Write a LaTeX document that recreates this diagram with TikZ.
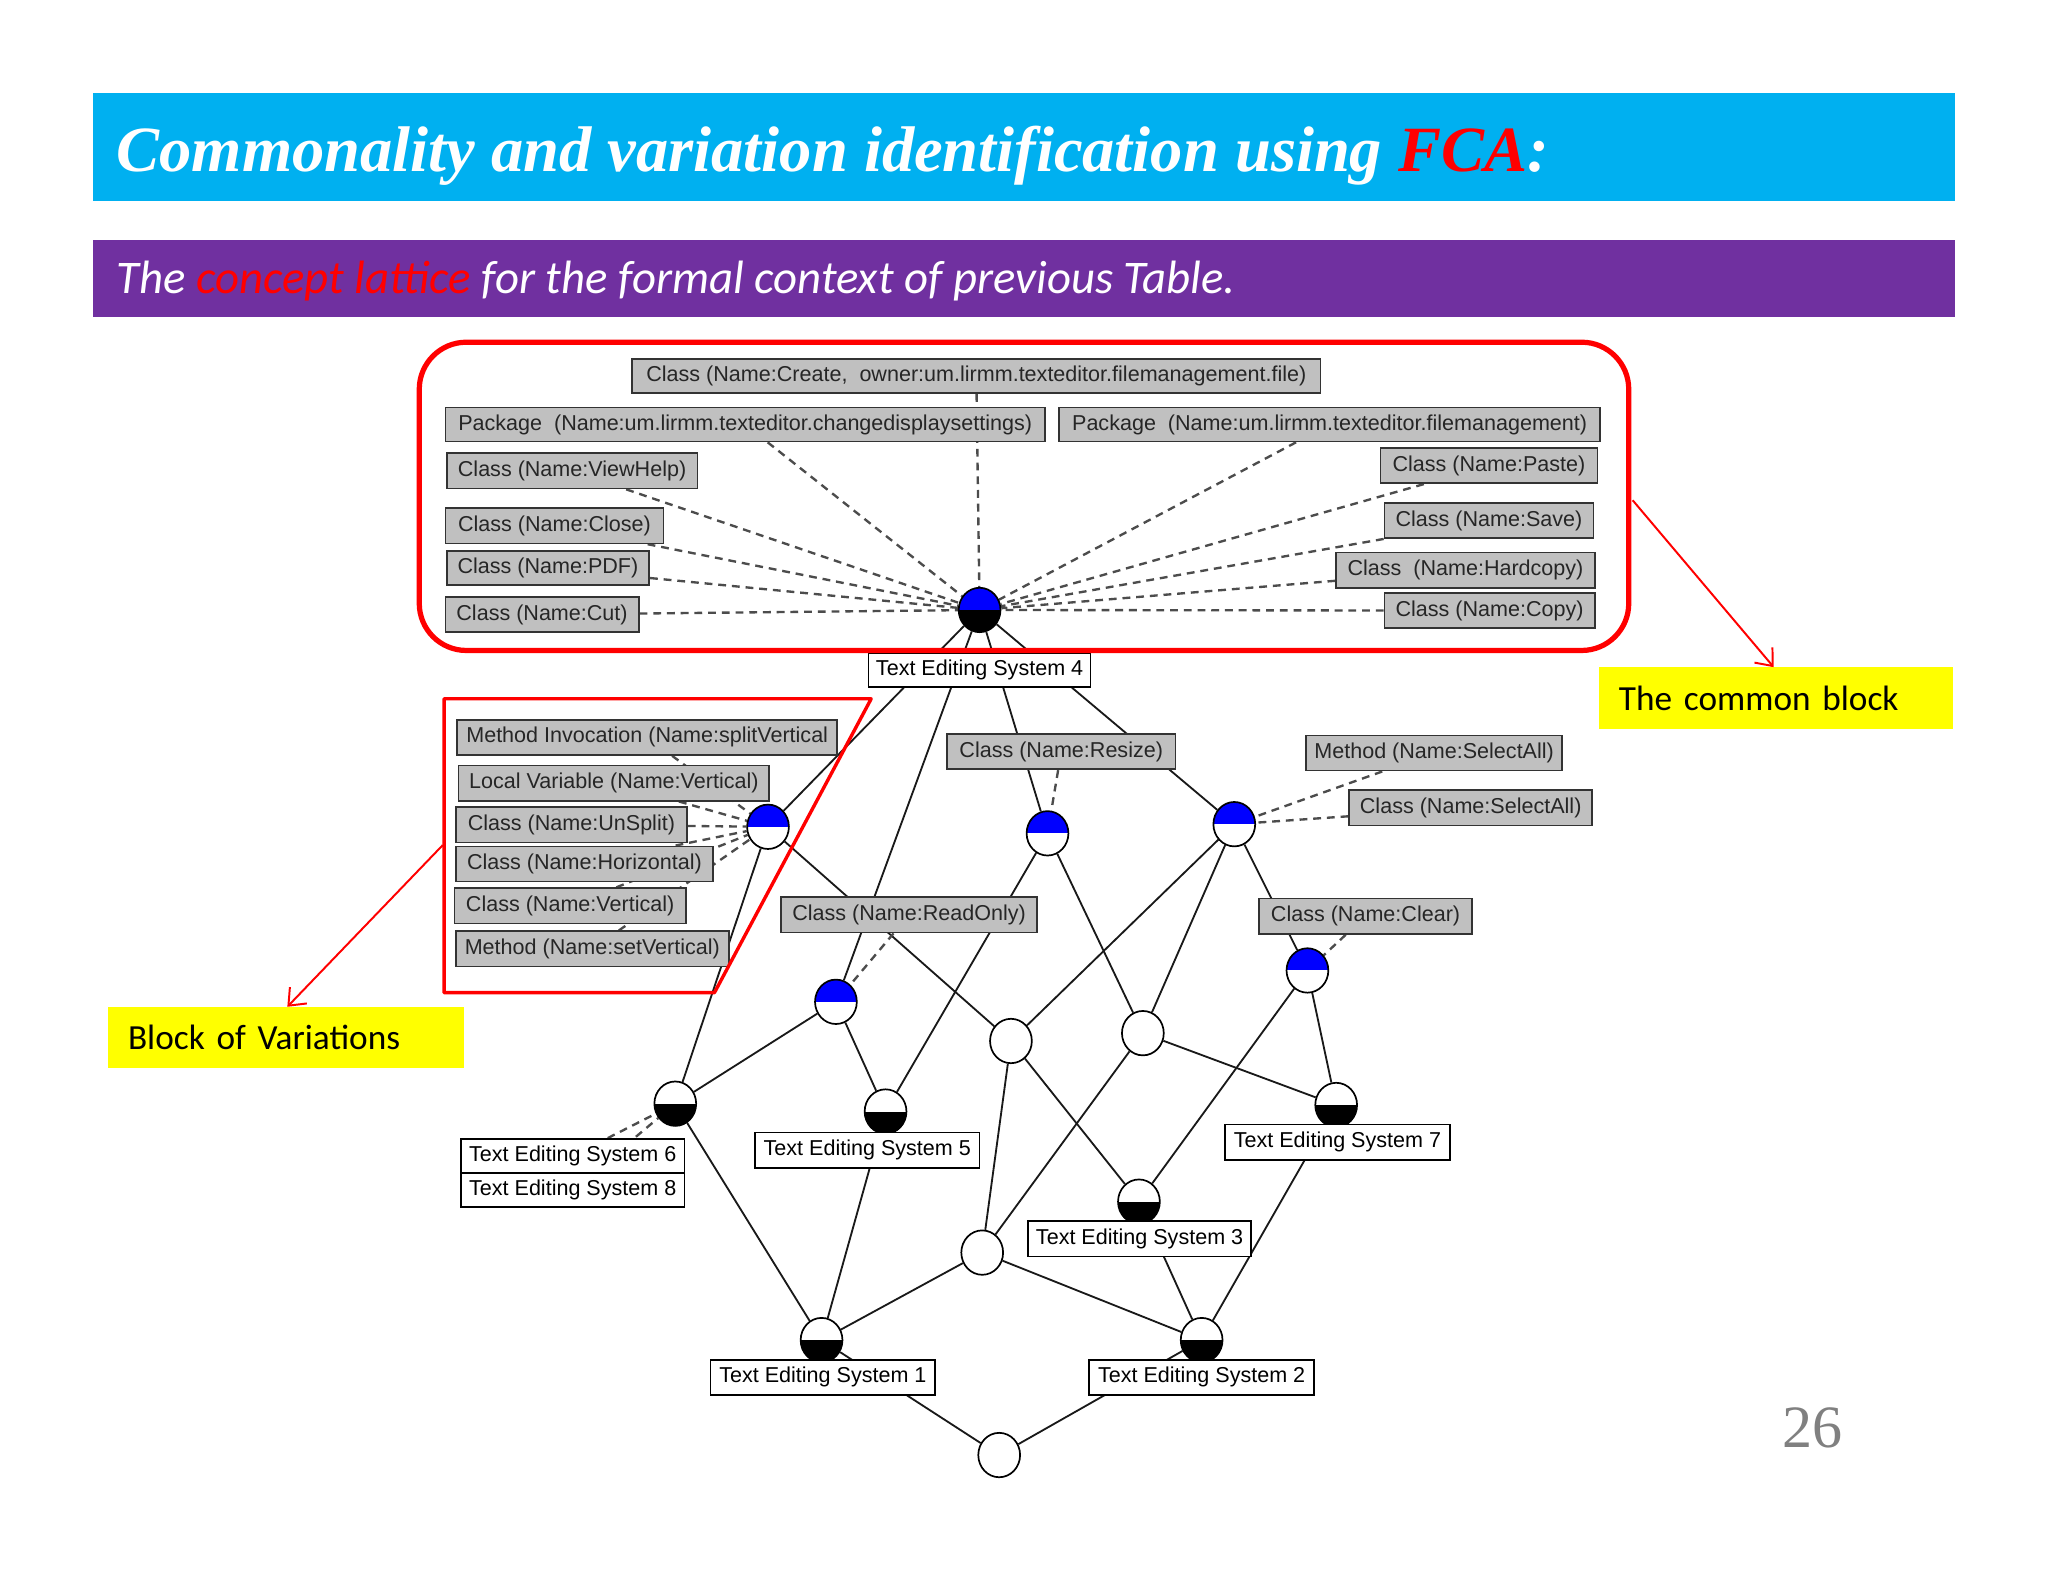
\documentclass[tikz,border=0pt]{standalone}
\usepackage{fontspec}
\setmainfont{Liberation Serif}
\newfontfamily\arialf{Liberation Sans}
\newfontfamily\calf{Carlito}
\usetikzlibrary{shapes.geometric,arrows.meta}
\pgfdeclarelayer{backdrop}
\pgfdeclarelayer{bg}
\pgfsetlayers{backdrop,bg,main}
\definecolor{titlecyan}{HTML}{00B0F0}
\definecolor{subpurple}{HTML}{7030A0}
\definecolor{boxgray}{HTML}{C0C0C0}
\definecolor{hlyellow}{HTML}{FFFF00}
\tikzset{
  gbox/.style={draw=black!80, fill=boxgray, line width=1.3pt, minimum height=26, inner sep=0pt,
    font=\arialf\fontsize{16.5}{18}\selectfont, text=black!85},
  wbox/.style={draw=black, fill=white, line width=1.3pt, minimum height=26, inner sep=0pt,
    font=\arialf\fontsize{16.5}{18}\selectfont, text=black},
  cpt/.style={ellipse, draw=black, line width=1.3pt, fill=white, minimum width=32, minimum height=34, inner sep=0pt},
  attrc/.style={cpt, path picture={\fill[blue] (path picture bounding box.north west) rectangle (path picture bounding box.east);}},
  objc/.style={cpt, path picture={\fill[black] (path picture bounding box.south west) rectangle (path picture bounding box.east);}},
  bothc/.style={cpt, path picture={\fill[blue] (path picture bounding box.north west) rectangle (path picture bounding box.east);
      \fill[black] (path picture bounding box.south west) rectangle (path picture bounding box.east);}},
  lnk/.style={draw=black!90, line width=1.4pt},
  dlnk/.style={draw=black!70, line width=1.8pt, dash pattern=on 6pt off 4.5pt},
  redmark/.style={draw=red, line join=round},
  redarrow/.style={draw=red, line width=1.5pt, -{Straight Barb[length=11pt,width=18pt,line width=1.5pt]}},
  yellowlbl/.style={fill=hlyellow, inner sep=0pt, font=\calf\fontsize{27}{30}\selectfont, text=black},
}
\begin{document}
\begin{tikzpicture}[x=1pt,y=-1pt]
\useasboundingbox (0,0) rectangle (1568,1211);
\begin{pgfonlayer}{backdrop}
  \fill[white] (0,0) rectangle (1568,1211);
\end{pgfonlayer}

% header bars
\fill[titlecyan] (71,71) rectangle (1497,154);
\node[anchor=base west, inner sep=0pt, text=white, font=\fontsize{49.4}{58}\selectfont\bfseries\itshape] (title) at (89,131)
  {Commonality and variation identification using \textcolor{red}{FCA}:};
\fill[subpurple] (71,184) rectangle (1497,243);
\node[anchor=base west, inner sep=0pt, text=white, font=\calf\fontsize{35.8}{38}\selectfont\itshape] (subtitle) at (89,225)
  {The \textcolor{red}{concept lattice} for the formal context of previous Table.};

% concept nodes
\node[bothc] (T) at (750,467) {};
\node[attrc] (V) at (588,633) {};
\node[attrc] (R) at (802,638) {};
\node[attrc] (S) at (945,631) {};
\node[attrc] (RO) at (640,767) {};
\node[attrc] (C) at (1001,743) {};
\node[cpt] (E1) at (774,797) {};
\node[cpt] (E2) at (875,791) {};
\node[cpt] (E3) at (752,959) {};
\node[cpt] (B) at (765,1114) {};
\node[objc] (N68) at (517,845) {};
\node[objc] (N5) at (678,851) {};
\node[objc] (N7) at (1023,846) {};
\node[objc] (N3) at (872,920) {};
\node[objc] (N1) at (629,1026) {};
\node[objc] (N2) at (920,1026) {};

% attribute labels (common block)
\node[gbox, minimum width=527] (cCreate) at (747.5,288) {Class (Name:Create,\ \ owner:um.lirmm.texteditor.filemanagement.file)};
\node[gbox, minimum width=459] (pCDS) at (570.5,325) {Package\ \ (Name:um.lirmm.texteditor.changedisplaysettings)};
\node[gbox, minimum width=414] (pFM) at (1018,325) {Package\ \ (Name:um.lirmm.texteditor.filemanagement)};
\node[gbox, minimum width=192, minimum height=27] (cViewHelp) at (438,360.5) {Class (Name:ViewHelp)};
\node[gbox, minimum width=167, minimum height=27] (cClose) at (424.5,402.5) {Class (Name:Close)};
\node[gbox, minimum width=155] (cPDF) at (419.5,435) {Class (Name:PDF)};
\node[gbox, minimum width=148, minimum height=27] (cCut) at (415,470.5) {Class (Name:Cut)};
\node[gbox, minimum width=166, minimum height=27] (cPaste) at (1140,356.5) {Class (Name:Paste)};
\node[gbox, minimum width=160, minimum height=27] (cSave) at (1140,398.5) {Class (Name:Save)};
\node[gbox, minimum width=198, minimum height=27] (cHardcopy) at (1122,436.5) {Class\ \ (Name:Hardcopy)};
\node[gbox, minimum width=161, minimum height=27] (cCopy) at (1140.5,467.5) {Class (Name:Copy)};

% attribute labels (variations)
\node[gbox, minimum width=291, minimum height=27] (mInv) at (495.5,564.5) {Method Invocation (Name:splitVertical};
\node[gbox, minimum width=238, minimum height=27] (lVar) at (470,599.5) {Local Variable (Name:Vertical)};
\node[gbox, minimum width=177, minimum height=27] (cUnSplit) at (437.5,631.5) {Class (Name:UnSplit)};
\node[gbox, minimum width=197, minimum height=27] (cHoriz) at (447.5,661.5) {Class (Name:Horizontal)};
\node[gbox, minimum width=177, minimum height=27] (cVert) at (436.5,693.5) {Class (Name:Vertical)};
\node[gbox, minimum width=209, minimum height=27] (mSetV) at (453.5,726.5) {Method (Name:setVertical)};

% other attribute labels
\node[gbox, minimum width=175, minimum height=27] (cResize) at (812.5,575.5) {Class (Name:Resize)};
\node[gbox, minimum width=196, minimum height=27] (mSelAll) at (1098,576.5) {Method (Name:SelectAll)};
\node[gbox, minimum width=186, minimum height=27] (cSelAll) at (1126,618.5) {Class (Name:SelectAll)};
\node[gbox, minimum width=196, minimum height=27] (cReadOnly) at (696,700.5) {Class (Name:ReadOnly)};
\node[gbox, minimum width=163, minimum height=27] (cClear) at (1045.5,701.5) {Class (Name:Clear)};

% object labels
\node[wbox, minimum width=170] (tes4) at (750,513) {Text Editing System 4};
\node[wbox, minimum width=171] (tes6) at (438.5,885) {Text Editing System 6};
\node[wbox, minimum width=171] (tes8) at (438.5,911) {Text Editing System 8};
\node[wbox, minimum width=172, minimum height=27] (tes5) at (664,880.5) {Text Editing System 5};
\node[wbox, minimum width=172, minimum height=27] (tes7) at (1024,874.5) {Text Editing System 7};
\node[wbox, minimum width=171, minimum height=27] (tes3) at (872.5,948.5) {Text Editing System 3};
\node[wbox, minimum width=172, minimum height=27] (tes1) at (630,1054.5) {Text Editing System 1};
\node[wbox, minimum width=172, minimum height=27] (tes2) at (920,1054.5) {Text Editing System 2};

% connectors on background layer
\begin{pgfonlayer}{bg}
  \foreach \a/\b in {T/V, T/RO, T/R, T/S, V/N68, V/E1, RO/N68, RO/N5, R/N5, R/E2, S/E1, S/E2, S/C,
      C/N3, C/N7, E1/N3, E1/E3, E2/E3, E2/N7, N68/N1, N5/N1, E3/N1, E3/N2, N3/N2, N7/N2, N1/B, N2/B}
    \draw[lnk] (\a) -- (\b);
  \foreach \l in {cCreate, pCDS, pFM, cViewHelp, cClose, cPDF, cCut, cPaste, cSave, cHardcopy, cCopy}
    \draw[dlnk] (\l) -- (T);
  \foreach \l in {mInv, lVar, cUnSplit, cHoriz, cVert, mSetV}
    \draw[dlnk] (\l) -- (V);
  \draw[dlnk] (cResize) -- (R);
  \draw[dlnk] (mSelAll) -- (S);
  \draw[dlnk] (cSelAll) -- (S);
  \draw[dlnk] (cReadOnly) -- (RO);
  \draw[dlnk] (cClear) -- (C);
  \draw[dlnk] (tes6) -- (N68);
  \draw[dlnk] (tes8) -- (N68);
\end{pgfonlayer}

% red annotations
\draw[redmark, line width=4pt, rounded corners=36pt] (321,262) rectangle (1247,498);
\draw[redmark, line width=2.6pt] (340,535) -- (667,535) -- (547,760) -- (340,760) -- cycle;

\node[yellowlbl, minimum width=271, minimum height=47, text width=240, align=left] (common) at (1359.5,534.5) {The common block};
\node[yellowlbl, minimum width=272, minimum height=47, text width=242, align=left] (variations) at (219,794.5) {Block of Variations};

\coordinate (commonstart) at (1250,383);
\coordinate (varstart) at (339,647);
\draw[redarrow] (commonstart) -- (common.north -| 1358,0);
\draw[redarrow] (varstart) -- (variations.north -| 220,0);

% page number
\node[anchor=base east, inner sep=0pt, text=black!50, font=\fontsize{46}{50}\selectfont] (pagenum) at (1411,1108) {26};
\end{tikzpicture}
\end{document}
